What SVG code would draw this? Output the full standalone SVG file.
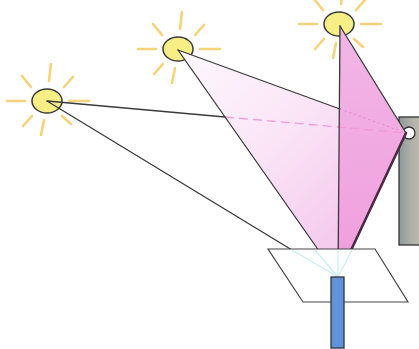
<svg xmlns="http://www.w3.org/2000/svg" width="419" height="349" viewBox="0 0 419 349">
  <defs>
    <style>
      .edge { fill: none; stroke: #3a3a3a; stroke-width: 1.3; stroke-linecap: round; }
      .thick { fill: none; stroke: #4a2a44; stroke-width: 2.6; stroke-linecap: round; }
      .hidden { fill: none; stroke: #f09ad9; stroke-width: 1.3; stroke-dasharray: 9 5; }
      .hidden2 { fill: none; stroke: #e889d2; stroke-width: 1; stroke-dasharray: 2 3; }
      .ghost { fill: none; stroke: #c6eef0; stroke-width: 1.2; }
      .ray { stroke: #f6d27a; stroke-width: 2.6; stroke-linecap: round; }
      .disc { fill: #f7ee86; stroke: #3a3a3a; stroke-width: 1.5; }
    </style>
    <linearGradient id="midFill" x1="190" y1="60" x2="350" y2="220" gradientUnits="userSpaceOnUse">
      <stop offset="0" stop-color="#fef6fd"/>
      <stop offset="0.55" stop-color="#fae3f6"/>
      <stop offset="1" stop-color="#f5cbee"/>
    </linearGradient>
    <linearGradient id="rightFill" x1="340" y1="26" x2="360" y2="250" gradientUnits="userSpaceOnUse">
      <stop offset="0" stop-color="#f2b6e6"/>
      <stop offset="1" stop-color="#f0a0de"/>
    </linearGradient>
    <linearGradient id="pillarFill" x1="0" y1="0" x2="1" y2="0">
      <stop offset="0" stop-color="#8e9898"/>
      <stop offset="0.5" stop-color="#aeb0a8"/>
      <stop offset="1" stop-color="#c4bdb0"/>
    </linearGradient>
    <g id="sun">
      <line class="ray" x1="22" y1="0" x2="42" y2="0"/>
      <line class="ray" x1="-22" y1="0" x2="-40" y2="0"/>
      <line class="ray" x1="2" y1="-20" x2="4" y2="-37"/>
      <line class="ray" x1="-3" y1="19" x2="-6" y2="34"/>
      <line class="ray" x1="-16" y1="-14" x2="-25" y2="-25"/>
      <line class="ray" x1="17" y1="-14" x2="26" y2="-24"/>
      <line class="ray" x1="-15" y1="15" x2="-24" y2="25"/>
      <line class="ray" x1="15" y1="15" x2="24" y2="23"/>
      <ellipse class="disc" cx="0" cy="0" rx="15" ry="12"/>
    </g>
  </defs>

  <!-- wall post with the mirror point -->
  <g id="post">
    <rect x="399" y="117" width="24" height="128" fill="url(#pillarFill)" stroke="#333" stroke-width="1.3"/>
    <circle cx="409" cy="133" r="6" fill="#ffffff" stroke="#333" stroke-width="1.3"/>
  </g>

  <!-- suns -->
  <g id="sun-left"><use href="#sun" transform="translate(47,101)"/></g>
  <g id="sun-mid"><use href="#sun" transform="translate(178,49)"/></g>
  <g id="sun-right"><use href="#sun" transform="translate(339,24)"/></g>

  <!-- light wedges from each sun to the mirror and down to the eye -->
  <g id="wedges">
    <polygon id="wedge-mid" points="178,50 406,133 338,278" fill="url(#midFill)"/>
    <polygon id="wedge-right" points="340,26 406,133 338,278" fill="url(#rightFill)"/>
  </g>

  <g id="connectors">
    <!-- left sun -->
    <line class="edge" x1="47" y1="101" x2="225" y2="117"/>
    <line class="hidden" x1="225" y1="117" x2="406" y2="133"/>
    <line class="edge" x1="47" y1="101" x2="338" y2="278"/>
    <!-- middle sun -->
    <line class="edge" x1="178" y1="50" x2="340" y2="109"/>
    <line class="hidden2" x1="340" y1="109" x2="406" y2="133"/>
    <line class="edge" x1="178" y1="50" x2="338" y2="278"/>
    <!-- right sun -->
    <line class="edge" x1="340" y1="26" x2="406" y2="133"/>
    <line class="edge" x1="340" y1="26" x2="338" y2="278"/>
    <line class="thick" x1="406" y1="133" x2="338" y2="278"/>
  </g>

  <!-- viewing plane -->
  <g id="plane">
    <polygon points="268,249 375,249 408,302 303,302" fill="#ffffff" stroke="#444" stroke-width="1.2"/>
    <g class="ghost">
      <line x1="292" y1="250" x2="338" y2="277"/>
      <line x1="315" y1="250" x2="338" y2="277"/>
      <line x1="338" y1="250" x2="338" y2="277"/>
      <line x1="352" y1="250" x2="338" y2="277"/>
    </g>
  </g>

  <!-- observer rod -->
  <g id="rod">
    <rect x="331" y="277" width="13" height="71" fill="#5f94dc" stroke="#333" stroke-width="1.3"/>
  </g>
</svg>
